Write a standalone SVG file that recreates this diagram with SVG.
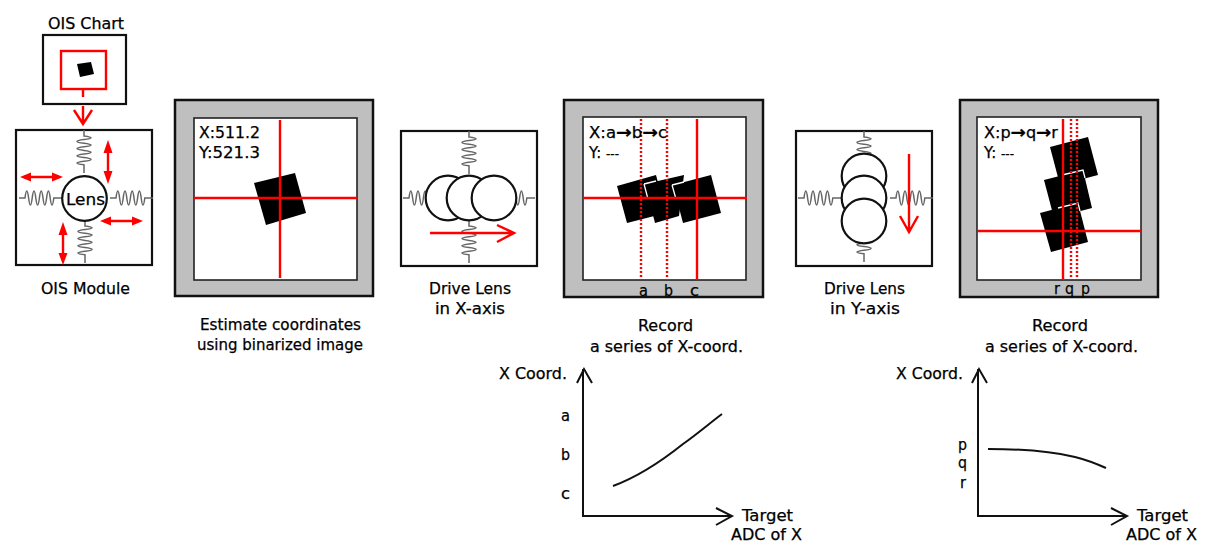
<svg xmlns="http://www.w3.org/2000/svg" xmlns:xlink="http://www.w3.org/1999/xlink" width="1231" height="559" viewBox="0 0 1231 559">
<style>
text{font-family:"DejaVu Sans","Liberation Sans",sans-serif;font-size:15px;fill:#000;stroke:#000;stroke-width:.25}
.box{fill:#fff;stroke:#111;stroke-width:2.2}
.frame{fill:#bfbfbf;stroke:#111;stroke-width:2.5}
.view{fill:#fff;stroke:#222;stroke-width:1.6}
.red{fill:none;stroke:#f00;stroke-width:2.4}
.dot{fill:none;stroke:#f00;stroke-width:2.4;stroke-dasharray:2 2}
.redhead{fill:#f00;stroke:none}
.lens{fill:#fff;stroke:#111;stroke-width:2.2}
.mark{fill:#000}
.edge{fill:none;stroke:#fff;stroke-width:1.3}
.spring{fill:none;stroke:#666;stroke-width:1.5}
.axis{fill:none;stroke:#111;stroke-width:2}
.small{font-size:12px}
.arw{font-weight:bold;font-size:17px}
</style>
<defs>
<path id="spring" class="spring" d="M0 0H6q1.8 -14 3.6 0t3.6 0t3.6 0t3.6 0t3.6 0t3.6 0t3.6 0t3.6 0H43"/>
</defs>

<g id="ois-chart">
<rect class="box" x="43" y="35" width="83" height="69"/>
<rect class="red" x="61" y="51" width="45" height="38"/>
<polygon class="mark" points="77,64 91,62 94,74 80,77"/>
<text x="48" y="29" textLength="76" lengthAdjust="spacingAndGlyphs">OIS Chart</text>
</g>

<g id="ois-module">
<rect class="box" x="16" y="130" width="136" height="135"/>
<use xlink:href="#spring" href="#spring" transform="translate(84,130) rotate(90)"/>
<use xlink:href="#spring" href="#spring" transform="translate(85,220) rotate(90)"/>
<use xlink:href="#spring" href="#spring" transform="translate(19,198)"/>
<use xlink:href="#spring" href="#spring" transform="translate(110,198)"/>
<circle class="lens" cx="84.5" cy="198.5" r="22.3"/>
<text x="66" y="205" textLength="39" lengthAdjust="spacingAndGlyphs">Lens</text>
<path class="red" d="M24 177H59M104 221H139M108 146V177M63 228V259"/>
<polygon class="redhead" points="20,177 31,172.5 31,181.5"/>
<polygon class="redhead" points="63,177 52,172.5 52,181.5"/>
<polygon class="redhead" points="100,221 111,216.5 111,225.5"/>
<polygon class="redhead" points="143,221 132,216.5 132,225.5"/>
<polygon class="redhead" points="108,140 103.5,153 112.5,153"/>
<polygon class="redhead" points="108,184 103.5,171 112.5,171"/>
<polygon class="redhead" points="63,222 58.5,235 67.5,235"/>
<polygon class="redhead" points="63,265 58.5,253 67.5,253"/>
<text x="41" y="294" textLength="89" lengthAdjust="spacingAndGlyphs">OIS Module</text>
</g>

<g id="estimate">
<rect class="frame" x="175" y="100" width="198" height="196"/>
<rect class="view" x="194" y="118" width="163" height="162"/>
<polygon class="mark" points="254,183 295,173 306,213 266,225"/>
<path class="red" d="M280 120V278M194 198H357"/>
<text x="199" y="138" textLength="61" lengthAdjust="spacingAndGlyphs">X:511.2</text>
<text x="199" y="158" textLength="61" lengthAdjust="spacingAndGlyphs">Y:521.3</text>
<text x="200" y="330" textLength="161" lengthAdjust="spacingAndGlyphs">Estimate coordinates</text>
<text x="197" y="350" textLength="166" lengthAdjust="spacingAndGlyphs">using binarized image</text>
</g>

<g id="drive-x">
<rect class="box" x="401" y="131" width="136" height="135"/>
<use xlink:href="#spring" href="#spring" transform="translate(469,131) rotate(90)"/>
<use xlink:href="#spring" href="#spring" transform="translate(469,220) rotate(90)"/>
<use xlink:href="#spring" href="#spring" transform="translate(403,198)"/>
<use xlink:href="#spring" href="#spring" transform="translate(492,198)"/>
<circle class="lens" cx="448" cy="198" r="22.3"/>
<circle class="lens" cx="469" cy="198" r="22.3"/>
<circle class="lens" cx="494" cy="198" r="22.3"/>
<path class="red" d="M430 233H513M497 225L514 233L497 242"/>
<text x="429" y="294" textLength="82" lengthAdjust="spacingAndGlyphs">Drive Lens</text>
<text x="435" y="314" textLength="70" lengthAdjust="spacingAndGlyphs">in X-axis</text>
</g>

<g id="record-x">
<rect class="frame" x="564" y="100" width="199" height="197"/>
<rect class="view" x="583" y="117" width="163" height="163"/>
<polygon class="mark" points="617,186 656,175 666,213 627,223"/>
<polygon class="mark" points="645,184 684,175 679,216 655,223"/>
<polygon class="mark" points="673,185 711,175 721,213 683,223"/>
<path class="edge" d="M644 184L656 181M648 199L644 184"/>
<path class="edge" d="M672 185L684 182M676 199L672 185"/>
<path class="red" d="M697 119V279M583 198H747"/>
<path class="dot" d="M641 119V279M667 119V279"/>
<text x="589" y="138" textLength="78" lengthAdjust="spacingAndGlyphs">X:a<tspan class="arw">→</tspan>b<tspan class="arw">→</tspan>c</text>
<text x="589" y="158">Y: <tspan class="small">---</tspan></text>
<text x="639" y="296" textLength="9" lengthAdjust="spacingAndGlyphs">a</text>
<text x="664" y="296" textLength="9" lengthAdjust="spacingAndGlyphs">b</text>
<text x="690" y="296" textLength="9" lengthAdjust="spacingAndGlyphs">c</text>
<text x="638" y="331" textLength="55" lengthAdjust="spacingAndGlyphs">Record</text>
<text x="590" y="352" textLength="153" lengthAdjust="spacingAndGlyphs">a series of X-coord.</text>
</g>

<g id="drive-y">
<rect class="box" x="796" y="131" width="136" height="135"/>
<use xlink:href="#spring" href="#spring" transform="translate(864,131) rotate(90)"/>
<use xlink:href="#spring" href="#spring" transform="translate(864,219) rotate(90)"/>
<use xlink:href="#spring" href="#spring" transform="translate(798,198)"/>
<use xlink:href="#spring" href="#spring" transform="translate(890,198)"/>
<circle class="lens" cx="864" cy="176" r="22.3"/>
<circle class="lens" cx="864" cy="198" r="22.3"/>
<circle class="lens" cx="864" cy="221" r="22.3"/>
<path class="red" d="M909 154V231M900 216L909 232L918 216"/>
<text x="824" y="294" textLength="81" lengthAdjust="spacingAndGlyphs">Drive Lens</text>
<text x="830" y="314" textLength="70" lengthAdjust="spacingAndGlyphs">in Y-axis</text>
</g>

<g id="record-y">
<rect class="frame" x="960" y="100" width="198" height="197"/>
<rect class="view" x="977" y="117" width="164" height="163"/>
<polygon class="mark" points="1050,147 1088,137 1098,175 1060,185"/>
<polygon class="mark" points="1044,180 1083,170 1092,208 1054,218"/>
<polygon class="mark" points="1040,213 1078,203 1088,242 1051,252"/>
<path class="edge" d="M1062 175L1083 170L1085 178"/>
<path class="edge" d="M1058 208L1078 203L1080 211"/>
<path class="red" d="M1063 119V279M977 231H1141"/>
<path class="dot" d="M1071 119V279M1077 119V279"/>
<text x="984" y="138" textLength="74" lengthAdjust="spacingAndGlyphs">X:p<tspan class="arw">→</tspan>q<tspan class="arw">→</tspan>r</text>
<text x="984" y="158">Y: <tspan class="small">---</tspan></text>
<text x="1054" y="294" textLength="6" lengthAdjust="spacingAndGlyphs">r</text>
<text x="1065" y="294" textLength="9" lengthAdjust="spacingAndGlyphs">q</text>
<text x="1081" y="294" textLength="9" lengthAdjust="spacingAndGlyphs">p</text>
<text x="1032" y="331" textLength="56" lengthAdjust="spacingAndGlyphs">Record</text>
<text x="985" y="352" textLength="153" lengthAdjust="spacingAndGlyphs">a series of X-coord.</text>
</g>

<g id="chart-x">
<path class="axis" d="M583 369V516H731M577 383L584 369L592 383M716 508L732 516L716 525"/>
<path class="axis" d="M613 486C640 476 663 460 683 444C697 434 710 423 722 414"/>
<text x="499" y="379" textLength="68" lengthAdjust="spacingAndGlyphs">X Coord.</text>
<text x="561" y="421" textLength="9" lengthAdjust="spacingAndGlyphs">a</text>
<text x="561" y="460" textLength="9" lengthAdjust="spacingAndGlyphs">b</text>
<text x="561" y="499" textLength="9" lengthAdjust="spacingAndGlyphs">c</text>
<text x="742" y="521" textLength="51" lengthAdjust="spacingAndGlyphs">Target</text>
<text x="731" y="540" textLength="71" lengthAdjust="spacingAndGlyphs">ADC of X</text>
</g>

<g id="chart-y">
<path class="axis" d="M978 369V516H1126M972 383L979 369L987 383M1111 508L1127 516L1111 525"/>
<path class="axis" d="M988 449C1020 449 1050 451 1075 457C1087 460 1097 464 1106 468"/>
<text x="896" y="379" textLength="67" lengthAdjust="spacingAndGlyphs">X Coord.</text>
<text x="958" y="450" textLength="9" lengthAdjust="spacingAndGlyphs">p</text>
<text x="958" y="468" textLength="9" lengthAdjust="spacingAndGlyphs">q</text>
<text x="960" y="488" textLength="6" lengthAdjust="spacingAndGlyphs">r</text>
<text x="1137" y="521" textLength="51" lengthAdjust="spacingAndGlyphs">Target</text>
<text x="1126" y="540" textLength="71" lengthAdjust="spacingAndGlyphs">ADC of X</text>
</g>

<g id="connectors">
<path class="red" d="M83 89V97M83 106V124M74 110L83 124L92 110"/>
</g>
</svg>
